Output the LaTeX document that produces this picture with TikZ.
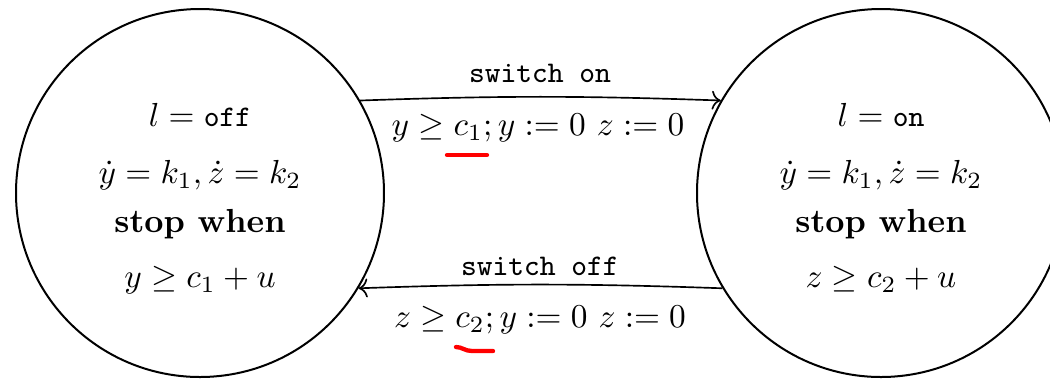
\documentclass[tikz,border=0pt]{standalone}
\usetikzlibrary{arrows.meta}
\newcommand\tx[1]{{\fontsize{9}{10}\selectfont\ttfamily #1}}
\begin{document}
\begin{tikzpicture}[x=0.3pt,y=-0.3pt,
  state/.style={circle,draw,line width=0.6pt,minimum size=110.4pt,inner sep=0pt},
  txtline/.style={anchor=base,inner sep=0pt},
  trans/.style={->,line width=0.5pt},
  redmark/.style={red,line width=1.3pt,line cap=round}]
\useasboundingbox (0,0) rectangle (1050,379);
\clip (0,0) rectangle (1050,379);
\node[state] (L) at (200,193) {};
\node[state] (R) at (881,193) {};
\node[txtline] (l1) at (200,126) {$l = \mbox{\tx{off}}$};
\node[txtline] (l2) at (200,183) {$\dot y = k_1, \dot z = k_2$};
\node[txtline] (l3) at (200,232) {\textbf{stop when}};
\node[txtline] (l4) at (200,287) {$y \geq c_1 + u$};
\node[txtline] (r1) at (881,126) {$l = \mbox{\tx{on}}$};
\node[txtline] (r2) at (881,183) {$\dot y = k_1, \dot z = k_2$};
\node[txtline] (r3) at (881,232) {\textbf{stop when}};
\node[txtline] (r4) at (881,287) {$z \geq c_2 + u$};
\draw[trans] (L.30) to[bend left=2] (R.150);
\draw[trans] (R.-149) to[bend right=2] (L.-31);
\node[txtline] (t1) at (540,82) {\tx{switch on}};
\node[txtline] (g1) at (538,135) {$y \geq c_1; y := 0\ z := 0$};
\node[txtline] (t2) at (540,275) {\tx{switch off}};
\node[txtline] (g2) at (540,327) {$z \geq c_2; y := 0\ z := 0$};
\draw[redmark] (447,155) -- (487,155);
\draw[redmark] (456,347) .. controls (462,347) and (465,351) .. (472,351) -- (493,351);
\end{tikzpicture}
\end{document}
